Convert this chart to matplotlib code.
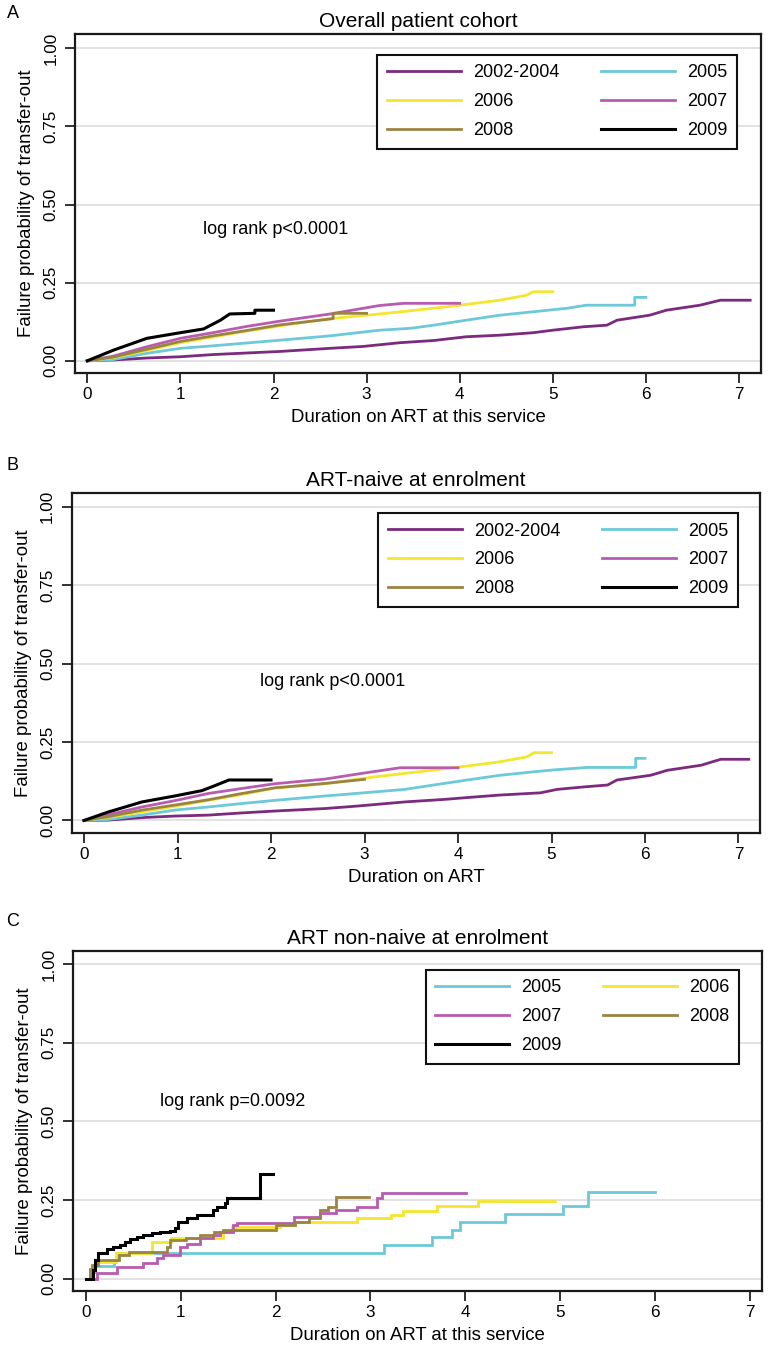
import matplotlib
matplotlib.use("Agg")
import matplotlib.pyplot as plt

plt.rcParams['font.family'] = ['Liberation Sans', 'DejaVu Sans']

# ---------------- data ----------------
colors = {'2002-2004': '#7b2a7e', '2005': '#6cc9d9', '2006': '#f2e62e',
          '2007': '#b85cb1', '2008': '#9a8444', '2009': '#000000'}

# Panel A: Overall patient cohort
a_t_0204 = [0, 0.3, 0.64, 1.0, 1.35, 1.71, 2.07, 2.61, 2.96, 3.36, 3.72, 4.07, 4.43, 4.79, 5.0, 5.33, 5.58, 5.69, 6.04, 6.22, 6.58, 6.80, 7.12]
a_f_0204 = [0, 0.003, 0.009, 0.013, 0.020, 0.025, 0.030, 0.040, 0.046, 0.058, 0.065, 0.077, 0.082, 0.090, 0.098, 0.109, 0.114, 0.130, 0.146, 0.162, 0.178, 0.194, 0.194]
a_t_2005 = [0, 0.28, 0.64, 1.0, 1.35, 1.71, 2.07, 2.61, 3.14, 3.47, 3.72, 4.07, 4.43, 4.79, 5.15, 5.36, 5.88, 5.88, 6.0]
a_f_2005 = [0, 0.004, 0.024, 0.040, 0.048, 0.057, 0.066, 0.080, 0.098, 0.104, 0.114, 0.130, 0.146, 0.157, 0.168, 0.178, 0.178, 0.203, 0.203]
a_t_2006 = [0, 0.28, 0.64, 1.0, 1.35, 1.71, 2.07, 2.61, 3.14, 3.47, 4.0, 4.43, 4.72, 4.79, 5.0]
a_f_2006 = [0, 0.010, 0.033, 0.058, 0.076, 0.095, 0.112, 0.135, 0.150, 0.160, 0.178, 0.194, 0.210, 0.221, 0.221]
a_t_2007 = [0, 0.28, 0.64, 1.0, 1.35, 1.71, 2.07, 2.61, 3.0, 3.14, 3.40, 4.0]
a_f_2007 = [0, 0.015, 0.045, 0.072, 0.090, 0.110, 0.127, 0.150, 0.170, 0.177, 0.184, 0.184]
a_t_2008 = [0, 0.28, 0.64, 1.0, 1.35, 1.71, 2.07, 2.64, 2.64, 3.0]
a_f_2008 = [0, 0.012, 0.037, 0.062, 0.080, 0.097, 0.115, 0.135, 0.152, 0.152]
a_t_2009 = [0, 0.28, 0.64, 1.0, 1.25, 1.43, 1.53, 1.80, 1.80, 2.0]
a_f_2009 = [0, 0.034, 0.072, 0.090, 0.102, 0.130, 0.150, 0.152, 0.162, 0.162]

# Panel B: ART-naive at enrolment
b_t_0204 = [0, 0.26, 0.62, 0.97, 1.33, 1.69, 2.04, 2.58, 2.93, 3.43, 3.85, 4.10, 4.45, 4.88, 5.06, 5.35, 5.60, 5.70, 6.06, 6.24, 6.60, 6.81, 7.11]
b_f_0204 = [0, 0.001, 0.009, 0.014, 0.017, 0.024, 0.030, 0.038, 0.046, 0.059, 0.067, 0.073, 0.081, 0.088, 0.099, 0.107, 0.113, 0.129, 0.144, 0.160, 0.176, 0.195, 0.195]
b_t_2005 = [0, 0.26, 0.62, 0.97, 1.33, 1.69, 2.04, 2.58, 3.11, 3.43, 3.74, 4.10, 4.45, 4.81, 5.02, 5.38, 5.90, 5.90, 6.0]
b_f_2005 = [0, 0.003, 0.017, 0.033, 0.043, 0.054, 0.064, 0.078, 0.091, 0.099, 0.113, 0.129, 0.144, 0.155, 0.161, 0.169, 0.169, 0.198, 0.198]
b_t_2006 = [0, 0.26, 0.62, 0.97, 1.33, 1.69, 2.04, 2.58, 3.11, 3.43, 4.03, 4.45, 4.74, 4.81, 5.0]
b_f_2006 = [0, 0.010, 0.027, 0.045, 0.064, 0.083, 0.103, 0.117, 0.139, 0.150, 0.171, 0.187, 0.203, 0.216, 0.216]
b_t_2007 = [0, 0.26, 0.62, 0.97, 1.33, 1.69, 2.04, 2.58, 2.97, 3.38, 4.0]
b_f_2007 = [0, 0.018, 0.043, 0.063, 0.086, 0.102, 0.117, 0.132, 0.150, 0.168, 0.168]
b_t_2008 = [0, 0.26, 0.62, 0.97, 1.33, 1.69, 2.04, 2.58, 3.0]
b_f_2008 = [0, 0.012, 0.033, 0.049, 0.066, 0.086, 0.104, 0.118, 0.131]
b_t_2009 = [0, 0.26, 0.62, 0.97, 1.26, 1.40, 1.55, 2.0]
b_f_2009 = [0, 0.027, 0.059, 0.078, 0.095, 0.111, 0.129, 0.129]

# Panel C: ART non-naive at enrolment (step functions)
c_t_2005 = [0, 0.04, 0.09, 0.30, 0.33, 3.14, 3.65, 3.86, 3.94, 4.42, 5.03, 5.30, 6.0]
c_f_2005 = [0, 0.020, 0.040, 0.060, 0.083, 0.107, 0.132, 0.156, 0.181, 0.207, 0.232, 0.275, 0.275]
c_t_2006 = [0, 0.05, 0.095, 0.32, 0.70, 0.90, 1.45, 1.54, 2.05, 2.19, 2.86, 3.22, 3.34, 3.70, 4.13, 4.95]
c_f_2006 = [0, 0.030, 0.054, 0.082, 0.118, 0.128, 0.149, 0.165, 0.171, 0.181, 0.192, 0.202, 0.216, 0.231, 0.247, 0.247]
c_t_2007 = [0, 0.113, 0.324, 0.605, 0.745, 0.816, 0.99, 1.06, 1.20, 1.34, 1.41, 1.55, 1.59, 2.19, 2.47, 2.64, 2.86, 3.07, 3.12, 4.01]
c_f_2007 = [0, 0.017, 0.038, 0.049, 0.065, 0.075, 0.102, 0.112, 0.128, 0.139, 0.149, 0.171, 0.176, 0.197, 0.208, 0.218, 0.229, 0.256, 0.272, 0.272]
c_t_2008 = [0, 0.04, 0.06, 0.13, 0.35, 0.45, 0.85, 0.886, 1.05, 1.20, 1.35, 1.45, 2.0, 2.2, 2.35, 2.47, 2.55, 2.64, 2.98]
c_f_2008 = [0, 0.030, 0.045, 0.060, 0.075, 0.085, 0.100, 0.123, 0.130, 0.140, 0.150, 0.155, 0.170, 0.181, 0.192, 0.218, 0.229, 0.259, 0.259]
c_t_2009 = [0, 0.077, 0.095, 0.13, 0.218, 0.289, 0.359, 0.412, 0.464, 0.535, 0.605, 0.693, 0.781, 0.886, 0.939, 0.974, 1.062, 1.167, 1.343, 1.378, 1.466, 1.484, 1.835, 1.976]
c_f_2009 = [0, 0.028, 0.059, 0.081, 0.093, 0.100, 0.107, 0.118, 0.125, 0.132, 0.139, 0.145, 0.150, 0.153, 0.160, 0.181, 0.192, 0.203, 0.219, 0.229, 0.242, 0.256, 0.333, 0.333]

titles = ['Overall patient cohort', 'ART-naive at enrolment', 'ART non-naive at enrolment']
xlabels = ['Duration on ART at this service', 'Duration on ART', 'Duration on ART at this service']
pvals = ['log rank p<0.0001', 'log rank p<0.0001', 'log rank p=0.0092']
ylabel = 'Failure probability of transfer-out'
xticks = [0, 1, 2, 3, 4, 5, 6, 7]
yticks = [0.0, 0.25, 0.5, 0.75, 1.0]
yticklabels = ['0.00', '0.25', '0.50', '0.75', '1.00']

panel_a = {'2002-2004': (a_t_0204, a_f_0204), '2005': (a_t_2005, a_f_2005), '2006': (a_t_2006, a_f_2006),
           '2007': (a_t_2007, a_f_2007), '2008': (a_t_2008, a_f_2008), '2009': (a_t_2009, a_f_2009)}
panel_b = {'2002-2004': (b_t_0204, b_f_0204), '2005': (b_t_2005, b_f_2005), '2006': (b_t_2006, b_f_2006),
           '2007': (b_t_2007, b_f_2007), '2008': (b_t_2008, b_f_2008), '2009': (b_t_2009, b_f_2009)}
panel_c = {'2005': (c_t_2005, c_f_2005), '2006': (c_t_2006, c_f_2006),
           '2007': (c_t_2007, c_f_2007), '2008': (c_t_2008, c_f_2008), '2009': (c_t_2009, c_f_2009)}

# ---------------- layout ----------------
W, H = 769, 1347
fig = plt.figure(figsize=(W / 100, H / 100), dpi=100)


def px_axes(l, t, r, b):
    return [l / W, 1 - b / H, (r - l) / W, (b - t) / H]


panels = [
    dict(data=panel_a, rect=px_axes(75, 34, 761, 373), xlim=(-0.132, 7.236), ylim=(-0.039, 1.046),
         order=['2002-2004', '2006', '2008', '2005', '2007', '2009'], leg=(0.965, 0.938),
         ptxt=(1.24, 0.42), step=False, letter='A', letter_y=13),
    dict(data=panel_b, rect=px_axes(71.7, 492.7, 760, 833.3), xlim=(-0.132, 7.23), ylim=(-0.041, 1.045),
         order=['2002-2004', '2006', '2008', '2005', '2007', '2009'], leg=(0.968, 0.940),
         ptxt=(1.88, 0.442), step=False, letter='B', letter_y=466),
    dict(data=panel_c, rect=px_axes(73.3, 951, 762, 1291), xlim=(-0.134, 7.13), ylim=(-0.039, 1.042),
         order=['2005', '2007', '2009', '2006', '2008'], leg=(0.967, 0.944),
         ptxt=(0.78, 0.563), step=True, letter='C', letter_y=922),
]

for i, p in enumerate(panels):
    ax = fig.add_axes(p['rect'])
    handles = {}
    for yr, (t, f) in p['data'].items():
        lw = 2.2 if yr == '2009' else 2.0
        if p['step']:
            ln, = ax.plot(t, f, drawstyle='steps-post', color=colors[yr], lw=lw, solid_joinstyle='miter')
        else:
            ln, = ax.plot(t, f, color=colors[yr], lw=lw)
        handles[yr] = ln
    ax.set_xlim(*p['xlim'])
    ax.set_ylim(*p['ylim'])
    ax.set_xticks(xticks)
    ax.set_xticklabels([str(v) for v in xticks], fontsize=12.3)
    ax.set_yticks(yticks)
    ax.set_yticklabels(yticklabels, fontsize=12.3, rotation=90, va='center')
    ax.tick_params(axis='both', direction='out', length=7, width=1.3, color='#222222')
    ax.tick_params(axis='y', pad=5)
    ax.tick_params(axis='x', pad=3)
    ax.yaxis.grid(True, color='#e2e2e2', lw=1.4)
    ax.set_axisbelow(True)
    for s in ax.spines.values():
        s.set_linewidth(1.6)
        s.set_color('#1a1a1a')
    ax.set_title(titles[i], fontsize=15, pad=5)
    ax.set_xlabel(xlabels[i], fontsize=13.4, labelpad=5)
    ax.set_ylabel(ylabel, fontsize=13.4, labelpad=6)
    ax.text(p['ptxt'][0], p['ptxt'][1], pvals[i], fontsize=13, va='center', ha='left')
    hs = [handles[k] for k in p['order']]
    leg = ax.legend(hs, p['order'], ncol=2, loc='upper right', bbox_to_anchor=p['leg'],
                    frameon=True, fancybox=False, edgecolor='#111111', framealpha=1,
                    fontsize=13, handlelength=4.1, handletextpad=0.68, columnspacing=2.3,
                    borderpad=0.52, labelspacing=0.66, borderaxespad=0)
    leg.get_frame().set_linewidth(1.5)
    fig.text(13 / W, 1 - p['letter_y'] / H, p['letter'], fontsize=13, ha='center', va='center')

fig.savefig('out.png', dpi=100)
